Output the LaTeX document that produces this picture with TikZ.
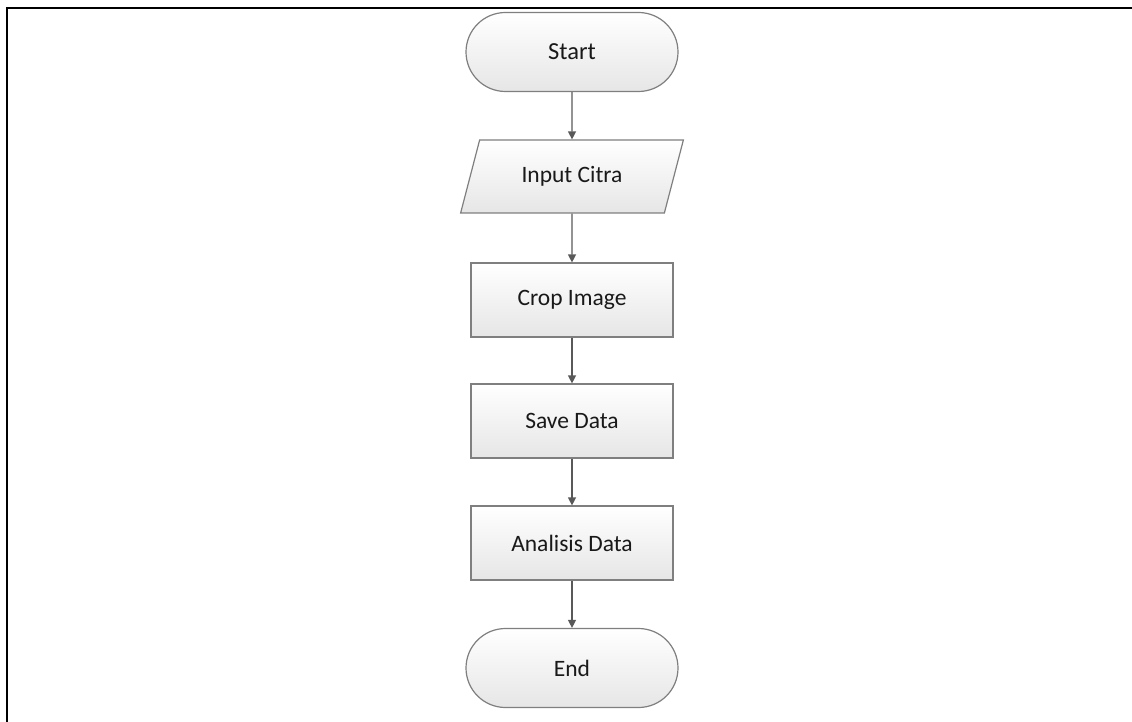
\documentclass[tikz,border=0pt]{standalone}
\usepackage{fontspec}
\setmainfont{Carlito}
\usetikzlibrary{shapes.geometric,shapes.misc,arrows.meta}
\definecolor{edge}{HTML}{7F7F7F}
\definecolor{arr}{HTML}{595959}
\definecolor{fillA}{HTML}{FFFFFF}
\definecolor{fillB}{HTML}{E6E6E6}
\tikzset{
  base/.style={draw=edge,line width=1.2pt,top color=fillA,bottom color=fillB,font=\fontsize{23.5}{27}\selectfont,text=black!90,inner sep=0pt},
  term/.style={base,rounded rectangle,minimum width=212pt,minimum height=79pt},
  proc/.style={base,rectangle,minimum width=202pt,minimum height=74pt},
  io/.style={base,trapezium,trapezium left angle=62.5,trapezium right angle=117.5,minimum width=223pt,minimum height=73pt,trapezium stretches=true},
  flow/.style={draw=arr,line width=1.3pt,-{Triangle[width=8pt,length=8pt]}}
}
\begin{document}
\begin{tikzpicture}[x=1pt,y=-1pt]
\useasboundingbox (0,0) rectangle (1132,722);
\draw[black,line width=2.2pt] (7,722) -- (7,8) -- (1132,8);
\node[term,font=\fontsize{24.5}{28}\selectfont] (start) at (572,52) {Start};
\node[io] (input) at (572,176.5) {Input Citra};
\node[proc] (crop) at (572,300) {Crop Image};
\node[proc] (save) at (572,421) {Save Data};
\node[proc] (anal) at (572,543) {Analisis Data};
\node[term] (end) at (572,668) {End};
\draw[flow] (start) -- (input);
\draw[flow] (input) -- (crop);
\draw[flow] (crop) -- (save);
\draw[flow] (save) -- (anal);
\draw[flow] (anal) -- (end);
\end{tikzpicture}
\end{document}
